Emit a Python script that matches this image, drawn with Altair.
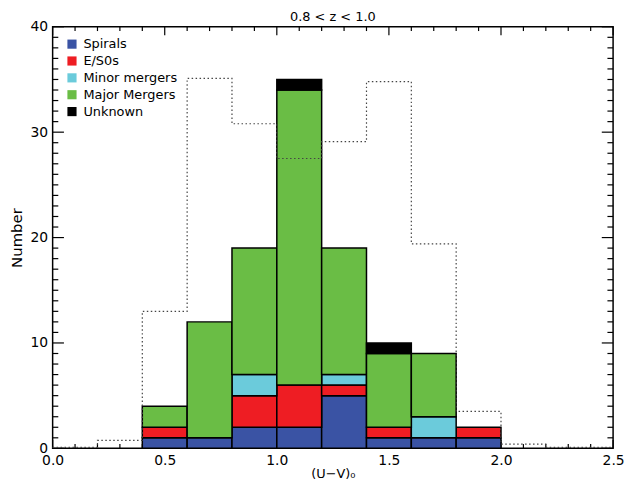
import altair as alt
import pandas as pd

# ---- data ----
bin_starts = [0.4, 0.6, 0.8, 1.0, 1.2, 1.4, 1.6, 1.8]
bin_width = 0.2
types = ["Spirals", "E/S0s", "Minor mergers", "Major Mergers", "Unknown"]
colors = ["#3A53A4", "#EE1D23", "#6BCBDB", "#6ABD45", "#000000"]
spirals = [1, 1, 2, 2, 5, 1, 1, 1]
es0 = [1, 0, 3, 4, 1, 1, 0, 1]
minor = [0, 0, 2, 0, 1, 0, 2, 0]
major = [2, 11, 12, 28, 12, 7, 6, 0]
unknown = [0, 0, 0, 1, 0, 1, 0, 0]

outline_edges = [0.0, 0.2, 0.4, 0.6, 0.8, 1.0, 1.2, 1.4, 1.6, 1.8, 2.0, 2.2, 2.4, 2.5]
outline_vals = [0.1, 0.75, 13.0, 35.1, 30.8, 27.5, 29.1, 34.8, 19.4, 3.5, 0.4, 0.1, 0.1, 0.1]

x_major = [0.0, 0.5, 1.0, 1.5, 2.0, 2.5]
x_minor = [round(i * 0.1, 1) for i in range(26) if i % 5 != 0]
y_major = [0, 10, 20, 30, 40]
y_minor = [i for i in range(41) if i % 10 != 0]

W, H = 565, 425
FONT = "DejaVu Sans"

# ---- build tables ----
series = [spirals, es0, minor, major, unknown]
rows = []
for k, (t, vals) in enumerate(zip(types, series)):
    for s, v in zip(bin_starts, vals):
        if v > 0:
            rows.append({"start": s, "end": round(s + bin_width, 2), "type": t, "count": v, "ord": k})
bars_df = pd.DataFrame(rows)
outline_df = pd.DataFrame({"x": outline_edges, "y": outline_vals})

xscale = alt.Scale(domain=[0, 2.5], nice=False, zero=False)
yscale = alt.Scale(domain=[0, 40], nice=False)

x_axis = alt.Axis(values=x_major, format=".1f", ticks=False, domain=False, grid=False,
                  labelFlush=False, labelOverlap=False,
                  labelFontSize=14, labelFont=FONT, labelColor="black", labelPadding=5,
                  title="(U\u2212V)\u2080", titleFontSize=13, titleFont=FONT,
                  titleFontWeight="normal", titleColor="black", titlePadding=0)
y_axis = alt.Axis(values=y_major, format="d", ticks=False, domain=False, grid=False,
                  labelFlush=False, labelOverlap=False,
                  labelFontSize=14, labelFont=FONT, labelColor="black", labelPadding=5,
                  title="Number", titleFontSize=15, titleFont=FONT,
                  titleFontWeight="normal", titleColor="black", titlePadding=6)

def X(field):
    return alt.X(f"{field}:Q", scale=xscale, axis=x_axis)

def Y(field):
    return alt.Y(f"{field}:Q", scale=yscale, axis=y_axis)

# ---- inward ticks ----
def xticks(vals, length):
    df = pd.DataFrame({"v": vals})
    bottom = alt.Chart(df).mark_rule(color="black", strokeWidth=1.2).encode(
        x=X("v"), y=alt.value(H), y2=alt.value(H - length))
    top = alt.Chart(df).mark_rule(color="black", strokeWidth=1.2).encode(
        x=X("v"), y=alt.value(0), y2=alt.value(length))
    return [bottom, top]

def yticks(vals, length):
    df = pd.DataFrame({"v": vals})
    left = alt.Chart(df).mark_rule(color="black", strokeWidth=1.2).encode(
        y=Y("v"), x=alt.value(0), x2=alt.value(length))
    right = alt.Chart(df).mark_rule(color="black", strokeWidth=1.2).encode(
        y=Y("v"), x=alt.value(W), x2=alt.value(W - length))
    return [left, right]

tick_layers = xticks(x_major, 8.5) + xticks(x_minor, 4.3) + yticks(y_major, 11.4) + yticks(y_minor, 5.7)

bars = alt.Chart(bars_df).transform_stack(
    stack="count", groupby=["start"], as_=["y0", "y1"], sort=[alt.SortField("ord")]
).mark_rect(stroke="black", strokeWidth=1.5).encode(
    x=X("start"),
    x2="end:Q",
    y=Y("y0"),
    y2="y1:Q",
    color=alt.Color("type:N", scale=alt.Scale(domain=types, range=colors),
                    legend=alt.Legend(orient="none", legendX=13, legendY=11, title=None,
                                      symbolType="square", symbolSize=85, symbolStrokeWidth=0,
                                      labelFontSize=13, labelFont=FONT, labelColor="black",
                                      rowPadding=3, labelOffset=5, padding=0)),
)

outline = alt.Chart(outline_df).mark_line(
    interpolate="step-after", color="#444444", strokeDash=[1.5, 2.5], strokeWidth=1.2
).encode(x=X("x"), y=Y("y"))

chart = alt.layer(*tick_layers, bars, outline).properties(
    width=W, height=H,
    autosize="none",
    padding={"left": 45, "top": 17, "right": 11, "bottom": 33},
    title=alt.TitleParams("0.8 < z < 1.0", fontSize=13, font=FONT, fontWeight="normal",
                          color="black", offset=0, dy=4, anchor="middle"),
).configure_view(stroke="black", strokeWidth=1.5)

chart.save("out.html", embed_options={"renderer": "svg", "actions": False})
